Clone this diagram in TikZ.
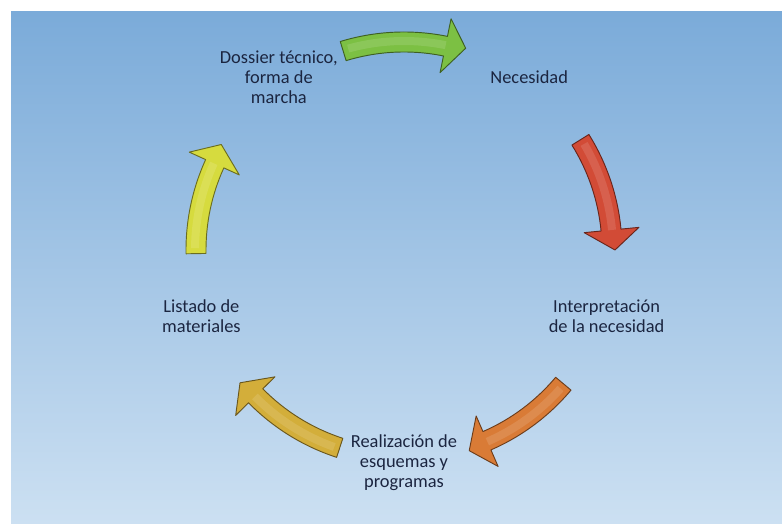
\documentclass[tikz,border=0pt]{standalone}
\usepackage{fontspec}
\setmainfont{Carlito}
\usepackage{xcolor}
\definecolor{cBlueTop}{HTML}{7BABD9}
\definecolor{cBlueMid}{HTML}{98C0E6}
\definecolor{cBlueBot}{HTML}{CCE0F2}
\definecolor{cText}{HTML}{1B2540}
\definecolor{cGreen}{HTML}{7CC043}
\definecolor{cRed}{HTML}{D24B36}
\definecolor{cOrange}{HTML}{D97B36}
\definecolor{cGold}{HTML}{D3AE3A}
\definecolor{cYellow}{HTML}{D6DB3E}

\newcommand{\cyclearrow}[3]{%
  \pgfmathsetmacro{\hb}{#2+5.5}%
  \filldraw[fill=#3, draw=#3!50!black, line width=0.7pt, line join=round]
    (#1:218) arc[start angle=#1, end angle=\hb, radius=218]
    -- (\hb:236) -- (#2:211) -- (\hb:181) -- (\hb:198)
    arc[start angle=\hb, end angle=#1, radius=198] -- cycle;
  \draw[#3!60!white, line width=6pt, opacity=0.3]
    (#1-1.5:209) arc[start angle=#1-1.5, end angle=\hb, radius=209];
}

\begin{document}
\begin{tikzpicture}[x=0.75pt, y=0.75pt,
    lbl/.style={align=center, text=cText, font=\fontsize{13.8}{15}\selectfont}]
  \useasboundingbox (0,0) rectangle (782,524);
  \fill[white] (0,0) rectangle (782,524);
  \shade[top color=cBlueTop, middle color=cBlueMid, bottom color=cBlueBot] (11,0) rectangle (782,512);
  \coordinate (ctr) at (404,274);
  \begin{scope}[shift={(ctr)}]
    \node[lbl] (necesidad) at (54:213) {Necesidad};
    \node[lbl] (interp) at (-18:213) {Interpretación\\de la necesidad};
    \node[lbl] (esquemas) at (-90:213) {Realización de\\esquemas y\\programas};
    \node[lbl] (listado) at (-162:213) {Listado de\\materiales};
    \node[lbl] (dossier) at (126:213) {Dossier técnico,\\forma de\\marcha};
    \cyclearrow{107}{73}{cGreen}
    \cyclearrow{32}{0}{cRed}
    \cyclearrow{-40}{-72}{cOrange}
    \cyclearrow{-108}{-141}{cGold}
    \cyclearrow{181}{150}{cYellow}
  \end{scope}
\end{tikzpicture}
\end{document}
